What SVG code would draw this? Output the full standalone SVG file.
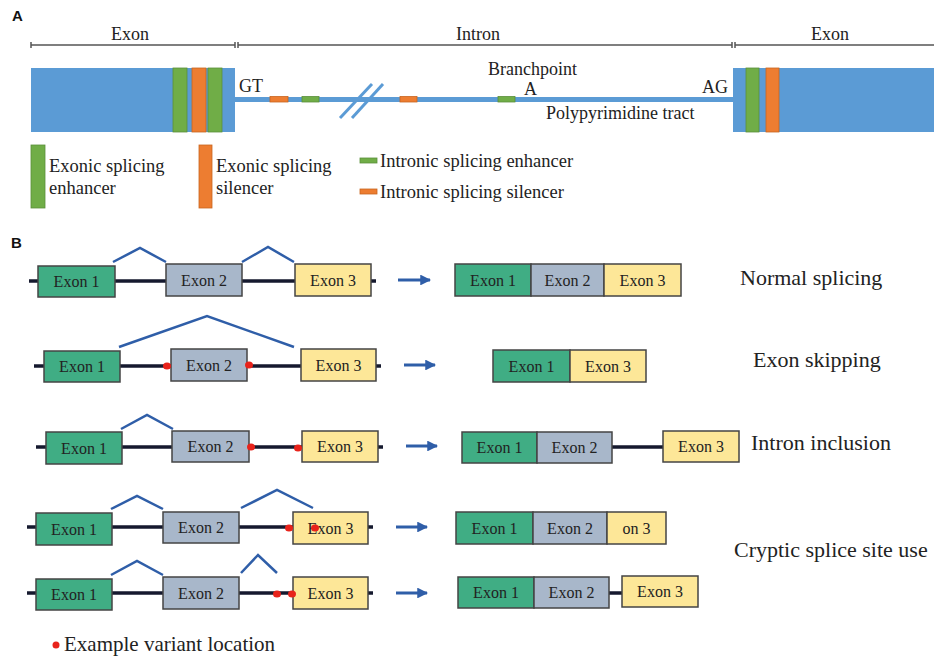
<svg xmlns="http://www.w3.org/2000/svg" width="934" height="658" viewBox="0 0 934 658">
<style>
text{font-family:"Liberation Serif","Times New Roman",serif;fill:#222}
.pl{font-family:"Liberation Sans",Arial,sans-serif;font-weight:bold;font-size:15px;fill:#111}
.la{font-size:18px}
.lb{font-size:18.5px}
.rl{font-size:22px}
.bx{font-size:16px;text-anchor:middle}
.e1{fill:#40ad84;stroke:#444;stroke-width:1.5}
.e2{fill:#a8b7ca;stroke:#444;stroke-width:1.5}
.e3{fill:#fde798;stroke:#444;stroke-width:1.5}
.gene{stroke:#15192e;stroke-width:3.5}
.arc{fill:none;stroke:#2f5ea8;stroke-width:2.5}
.arr{stroke:#2f5ea8;stroke-width:3}
.dot{fill:#e8231b}
.blue{fill:#5b9bd5}
.gr{fill:#70ad47;stroke:#5a8f3a;stroke-width:0.8}
.or{fill:#ed7d31;stroke:#c9651f;stroke-width:0.8}
.brk{stroke:#555;stroke-width:1.5}
</style>
<defs>
<marker id="ah" viewBox="0 0 10 10" refX="9" refY="5" markerWidth="3.6" markerHeight="3.6" orient="auto" markerUnits="strokeWidth">
<path d="M0,0 L10,5 L0,10 z" fill="#2f5ea8"/>
</marker>
</defs>

<!-- Panel A -->
<g id="panelA">
<text class="pl" x="12" y="21">A</text>
<g id="brackets">
<line class="brk" x1="31" y1="45" x2="235" y2="45"/>
<line class="brk" x1="31" y1="42" x2="31" y2="48"/>
<line class="brk" x1="235" y1="42" x2="235" y2="48"/>
<line class="brk" x1="238" y1="45" x2="732" y2="45"/>
<line class="brk" x1="238" y1="42" x2="238" y2="48"/>
<line class="brk" x1="732" y1="42" x2="732" y2="48"/>
<line class="brk" x1="735" y1="45" x2="934" y2="45"/>
<line class="brk" x1="735" y1="42" x2="735" y2="48"/>
<text class="la" x="130" y="40" text-anchor="middle">Exon</text>
<text class="la" x="478" y="40" text-anchor="middle">Intron</text>
<text class="la" x="830" y="40" text-anchor="middle">Exon</text>
</g>
<g id="exonLeft">
<rect class="blue" x="31" y="68" width="204" height="64"/>
<rect class="gr" x="173" y="68" width="14" height="64"/>
<rect class="or" x="192" y="68" width="14" height="64"/>
<rect class="gr" x="208" y="68" width="14" height="64"/>
</g>
<g id="intron">
<rect class="blue" x="235" y="97" width="498" height="5"/>
<rect class="or" x="270" y="96.5" width="18" height="5.5"/>
<rect class="gr" x="302" y="96.5" width="17" height="5.5"/>
<rect class="or" x="400" y="96.5" width="17" height="5.5"/>
<rect class="gr" x="498" y="96.5" width="17" height="5.5"/>
<line x1="340" y1="118" x2="372" y2="84" stroke="#5b9bd5" stroke-width="3"/>
<line x1="352" y1="118" x2="383" y2="84" stroke="#5b9bd5" stroke-width="3"/>
<text class="la" x="239" y="92">GT</text>
<text class="la" x="488" y="75">Branchpoint</text>
<text class="la" x="524" y="95">A</text>
<text class="la" x="702" y="93">AG</text>
<text class="la" x="546" y="119">Polypyrimidine tract</text>
</g>
<g id="exonRight">
<rect class="blue" x="733" y="68" width="201" height="64"/>
<rect class="gr" x="746" y="68" width="13" height="64"/>
<rect class="or" x="766" y="68" width="13" height="64"/>
</g>
<g id="legendA">
<rect class="gr" x="31" y="145" width="14" height="63"/>
<text class="lb" x="49" y="172">Exonic splicing</text>
<text class="lb" x="49" y="194">enhancer</text>
<rect class="or" x="199" y="145" width="13" height="63"/>
<text class="lb" x="216" y="172">Exonic splicing</text>
<text class="lb" x="216" y="194">silencer</text>
<rect class="gr" x="360" y="158" width="17" height="5"/>
<text class="lb" x="380" y="167">Intronic splicing enhancer</text>
<rect class="or" x="360" y="189" width="17" height="5"/>
<text class="lb" x="380" y="198">Intronic splicing silencer</text>
</g>
</g>

<!-- Panel B -->
<text class="pl" x="11" y="248">B</text>

<g id="connectors">
<!-- row 1 -->
<line class="gene" x1="29" y1="281" x2="376" y2="281"/>
<polyline class="arc" points="113,262 140,248 166,262"/>
<polyline class="arc" points="242,262 268,247 294,262"/>
<line class="arr" x1="398" y1="280" x2="430" y2="280" marker-end="url(#ah)"/>
<!-- row 2 -->
<line class="gene" x1="34" y1="366" x2="381" y2="366"/>
<polyline class="arc" points="119,347 207,316 294,347"/>
<line class="arr" x1="404" y1="365" x2="435" y2="365" marker-end="url(#ah)"/>
<!-- row 3 -->
<line class="gene" x1="36" y1="447" x2="383" y2="447"/>
<polyline class="arc" points="121,429 147,415 173,429"/>
<line class="arr" x1="406" y1="446" x2="437" y2="446" marker-end="url(#ah)"/>
<line class="gene" x1="612" y1="447" x2="663" y2="447"/>
<!-- row 4 -->
<line class="gene" x1="27" y1="527" x2="373" y2="527"/>
<polyline class="arc" points="111,509 137,496 163,509"/>
<polyline class="arc" points="241,508 277,490 313,508"/>
<line class="arr" x1="396" y1="527" x2="427" y2="527" marker-end="url(#ah)"/>
<!-- row 5 -->
<line class="gene" x1="27" y1="593" x2="373" y2="593"/>
<polyline class="arc" points="111,575 137,561 163,575"/>
<polyline class="arc" points="241,573 258,555 277,573"/>
<line class="arr" x1="396" y1="593" x2="427" y2="593" marker-end="url(#ah)"/>
<line class="gene" x1="609" y1="593" x2="622" y2="593"/>
</g>

<!-- Row 1 -->
<g id="r1-exon1"><rect class="e1" x="38" y="266" width="77" height="31"/><text class="bx" x="76.5" y="287">Exon 1</text></g>
<g id="r1-exon2"><rect class="e2" x="166" y="264" width="76" height="32"/><text class="bx" x="204" y="286">Exon 2</text></g>
<g id="r1-exon3"><rect class="e3" x="295" y="264" width="76" height="32"/><text class="bx" x="333" y="286">Exon 3</text></g>
<g id="r1-result">
<rect class="e1" x="455" y="264" width="76" height="32"/><text class="bx" x="493" y="286">Exon 1</text>
<rect class="e2" x="531" y="264" width="73" height="32"/><text class="bx" x="567.5" y="286">Exon 2</text>
<rect class="e3" x="604" y="264" width="77" height="32"/><text class="bx" x="642.5" y="286">Exon 3</text>
</g>
<text class="rl" x="740" y="285">Normal splicing</text>

<!-- Row 2 -->
<g id="r2-exon1"><rect class="e1" x="44" y="351" width="76" height="31"/><text class="bx" x="82" y="372">Exon 1</text></g>
<g id="r2-exon2"><rect class="e2" x="171" y="349" width="76" height="32"/><text class="bx" x="209" y="371">Exon 2</text></g>
<g id="r2-exon3"><rect class="e3" x="301" y="349" width="75" height="32"/><text class="bx" x="338.5" y="371">Exon 3</text></g>
<ellipse class="dot" cx="167" cy="366" rx="4" ry="3.5"/>
<ellipse class="dot" cx="249" cy="365" rx="4" ry="3.5"/>
<g id="r2-result">
<rect class="e1" x="493" y="350" width="77" height="32"/><text class="bx" x="531.5" y="372">Exon 1</text>
<rect class="e3" x="570" y="350" width="76" height="32"/><text class="bx" x="608" y="372">Exon 3</text>
</g>
<text class="rl" x="753" y="367">Exon skipping</text>

<!-- Row 3 -->
<g id="r3-exon1"><rect class="e1" x="46" y="432" width="76" height="32"/><text class="bx" x="84" y="454">Exon 1</text></g>
<g id="r3-exon2"><rect class="e2" x="172" y="431" width="77" height="31"/><text class="bx" x="210.5" y="452">Exon 2</text></g>
<g id="r3-exon3"><rect class="e3" x="302" y="431" width="76" height="31"/><text class="bx" x="340" y="452">Exon 3</text></g>
<ellipse class="dot" cx="251" cy="447" rx="4" ry="3.5"/>
<ellipse class="dot" cx="298" cy="448" rx="4" ry="3.5"/>
<g id="r3-result">
<rect class="e1" x="462" y="432" width="75" height="31"/><text class="bx" x="499.5" y="453">Exon 1</text>
<rect class="e2" x="537" y="432" width="75" height="31"/><text class="bx" x="574.5" y="453">Exon 2</text>
<rect class="e3" x="663" y="431" width="76" height="31"/><text class="bx" x="701" y="452">Exon 3</text>
</g>
<text class="rl" x="751" y="450">Intron inclusion</text>

<!-- Row 4 -->
<g id="r4-exon1"><rect class="e1" x="36" y="513" width="76" height="32"/><text class="bx" x="74" y="535">Exon 1</text></g>
<g id="r4-exon2"><rect class="e2" x="163" y="512" width="76" height="31"/><text class="bx" x="201" y="533">Exon 2</text></g>
<g id="r4-exon3"><rect class="e3" x="293" y="512" width="75" height="32"/><text class="bx" x="330.5" y="534">Exon 3</text></g>
<ellipse class="dot" cx="289" cy="528" rx="4" ry="3.5"/>
<ellipse class="dot" cx="315" cy="528" rx="4" ry="3.5"/>
<g id="r4-result">
<rect class="e1" x="456" y="512" width="77" height="32"/><text class="bx" x="494.5" y="534">Exon 1</text>
<rect class="e2" x="533" y="512" width="74" height="32"/><text class="bx" x="570" y="534">Exon 2</text>
<rect class="e3" x="607" y="512" width="59" height="32"/><text class="bx" x="636.5" y="534">on 3</text>
</g>

<!-- Row 5 -->
<g id="r5-exon1"><rect class="e1" x="36" y="579" width="76" height="31"/><text class="bx" x="74" y="600">Exon 1</text></g>
<g id="r5-exon2"><rect class="e2" x="163" y="577" width="76" height="32"/><text class="bx" x="201" y="599">Exon 2</text></g>
<g id="r5-exon3"><rect class="e3" x="293" y="577" width="75" height="32"/><text class="bx" x="330.5" y="599">Exon 3</text></g>
<ellipse class="dot" cx="277" cy="594" rx="4" ry="3.5"/>
<ellipse class="dot" cx="292" cy="594" rx="4" ry="3.5"/>
<g id="r5-result">
<rect class="e1" x="458" y="577" width="76" height="31"/><text class="bx" x="496" y="598">Exon 1</text>
<rect class="e2" x="534" y="577" width="75" height="31"/><text class="bx" x="571.5" y="598">Exon 2</text>
<rect class="e3" x="622" y="576" width="76" height="31"/><text class="bx" x="660" y="597">Exon 3</text>
</g>
<text class="rl" x="734" y="557">Cryptic splice site use</text>

<g id="legendB">
<ellipse class="dot" cx="56" cy="645" rx="3.5" ry="3.5"/>
<text x="64" y="651" style="font-size:21px">Example variant location</text>
</g>
</svg>
